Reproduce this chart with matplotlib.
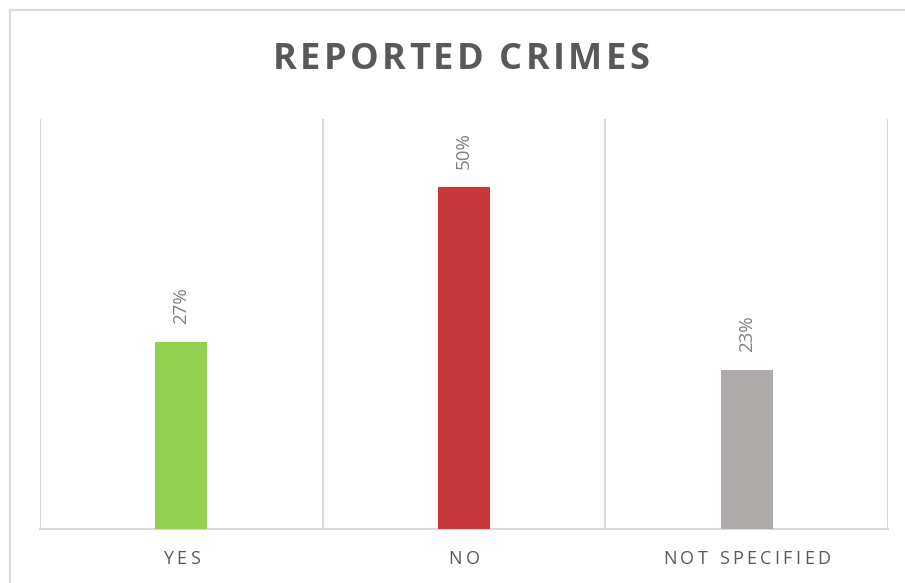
import numpy as np
import matplotlib
matplotlib.use("Agg")
import matplotlib.pyplot as plt
from matplotlib.font_manager import FontProperties
from matplotlib.patches import Rectangle
from matplotlib.transforms import offset_copy

categories = ["YES", "NO", "NOT SPECIFIED"]
values = [27.4, 50, 23.2]
value_labels = ["27%", "50%", "23%"]
bar_colors = ["#92D050", "#C8373A", "#AEAAAA"]
title = "REPORTED CRIMES"

DPI = 100
FONT = "Open Sans"
GRID = "#D9D9D9"

fig = plt.figure(figsize=(9.05, 5.83), dpi=DPI)
ax = fig.add_axes([40 / 905, 1 - 529 / 583, 848 / 905, 410 / 583])

# light frame around the chart area (runs off the right/bottom edge)
fig.patches.append(Rectangle((10 / 905, -0.2), 1.2, 1.2 - 10 / 583,
                             transform=fig.transFigure, fill=False,
                             edgecolor=GRID, lw=1.5, zorder=0))

x = np.arange(len(categories))
bars = ax.bar(x, values, width=0.184, color=bar_colors, zorder=3)
ax.bar_label(bars, labels=value_labels, rotation=90, padding=13,
             fontsize=13.5, family=FONT, color="#7F7F7F")

ax.set_xlim(-0.5, len(categories) - 0.5)
ax.set_ylim(0, 60)
ax.set_yticks([])
ax.set_xticks(x)
ax.set_xticklabels([""] * len(categories))
ax.set_xticks(np.arange(len(categories) + 1) - 0.5, minor=True)
ax.tick_params(which="both", length=0)
ax.grid(which="minor", axis="x", color=GRID, lw=1.5, zorder=0)
for side in ("top", "left", "right"):
    ax.spines[side].set_visible(False)
ax.spines["bottom"].set_color(GRID)
ax.spines["bottom"].set_linewidth(1.5)

renderer = fig.canvas.get_renderer()


def char_width(ch, fp):
    if ch == " ":
        w2 = renderer.get_text_width_height_descent("a a", fp, ismath=False)[0]
        w1 = renderer.get_text_width_height_descent("aa", fp, ismath=False)[0]
        return w2 - w1
    return renderer.get_text_width_height_descent(ch, fp, ismath=False)[0]


# matplotlib has no letter spacing, so lay the characters out one by one
def spaced_text(x0, y0, s, transform, fp, spacing, color, dy=0):
    widths = [char_width(ch, fp) for ch in s]
    total = sum(widths) + spacing * (len(s) - 1)
    pos = -total / 2
    for ch, w in zip(s, widths):
        tr = offset_copy(transform, fig=fig, x=pos * 72 / DPI, y=dy * 72 / DPI, units="points")
        fig.text(x0, y0, ch, transform=tr, fontproperties=fp, color=color,
                 ha="left", va="baseline")
        pos += w + spacing


tick_fp = FontProperties(family=FONT, size=13)
for xi, cat in zip(x, categories):
    spaced_text(xi, 0, cat, ax.get_xaxis_transform(), tick_fp, 3.4, "#595959", dy=-35)

title_fp = FontProperties(family=FONT, size=26, weight="bold")
spaced_text(461 / 905, 1 - 69 / 583, title, fig.transFigure, title_fp, 3.3, "#595959")

fig.savefig("out.png", dpi=DPI)
